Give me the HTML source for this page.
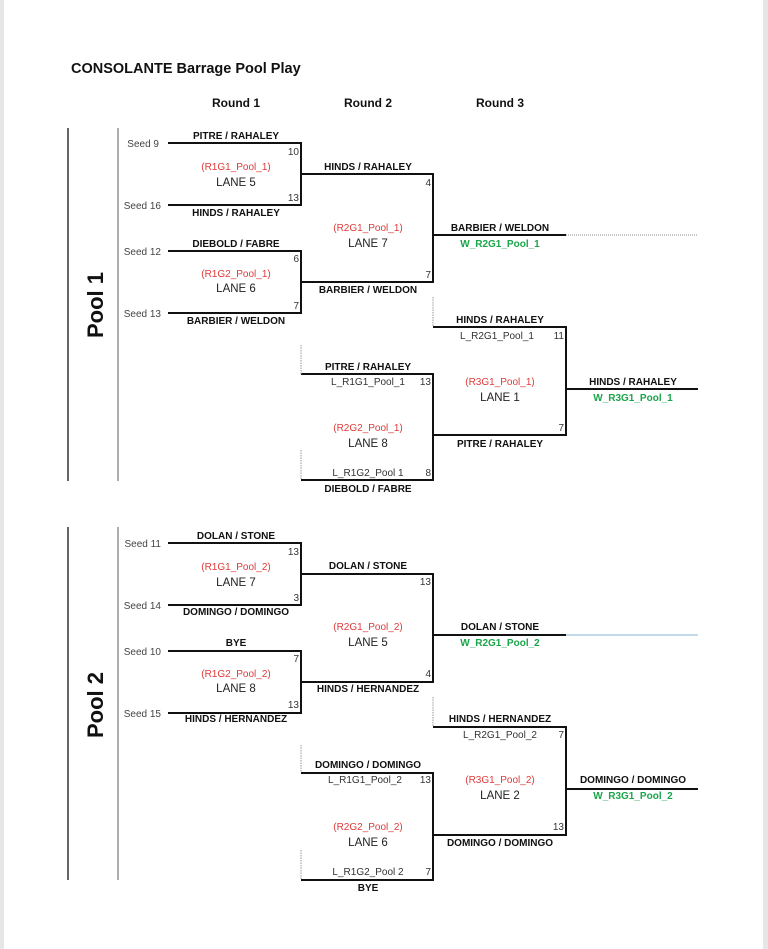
<!DOCTYPE html>
<html><head><meta charset="utf-8"><style>
html,body{margin:0;padding:0;background:#fff;}
svg{display:block;font-family:"Liberation Sans",sans-serif;}
.b{font-weight:bold;font-size:10px;text-anchor:middle;fill:#111;}
.r{font-size:10px;text-anchor:middle;fill:#e03a3a;}
.l{font-size:11.5px;text-anchor:middle;fill:#222;}
.g{font-weight:bold;font-size:10px;text-anchor:middle;fill:#1aa54a;}
.n{font-size:10px;text-anchor:middle;fill:#333;}
.s{font-size:10px;text-anchor:end;fill:#333;}
.sd{font-size:10px;text-anchor:end;fill:#444;}
.k{stroke:#111;stroke-width:2;fill:none;}
.d{stroke:#999;stroke-width:1;stroke-dasharray:1.5 1;fill:none;}
</style></head><body>
<svg width="768" height="949" viewBox="0 0 768 949">
<rect x="0" y="0" width="4" height="949" fill="#e6e6e6"/>
<rect x="763" y="0" width="5" height="949" fill="#e6e6e6"/>
<text x="71" y="73" font-weight="bold" font-size="14.5" fill="#111">CONSOLANTE Barrage Pool Play</text>
<text x="236" y="107" class="b" font-size="12" style="font-size:12px">Round 1</text>
<text x="368" y="107" class="b" style="font-size:12px">Round 2</text>
<text x="500" y="107" class="b" style="font-size:12px">Round 3</text>

<!-- POOL 1 -->
<g>
<line x1="68" y1="128" x2="68" y2="481" stroke="#333" stroke-width="1.5"/>
<line x1="118" y1="128" x2="118" y2="481" stroke="#777" stroke-width="1.2"/>
<text transform="translate(103,305) rotate(-90)" font-weight="bold" font-size="22" text-anchor="middle" fill="#111">Pool 1</text>
<path class="k" d="M168 143H301V205H168M168 251H301V313H168M301 174H433V282H301M433 235H566M433 327H566V435H433M301 374H433V480H301M566 389H698"/>
<path d="M566 235H698" stroke="#888" stroke-width="1" stroke-dasharray="1 1"/>
<path class="d" d="M433 297V327M301 345V374M301 450V480"/>
<text x="159" y="147" class="sd">Seed 9</text>
<text x="161" y="209" class="sd">Seed 16</text>
<text x="161" y="255" class="sd">Seed 12</text>
<text x="161" y="317" class="sd">Seed 13</text>
<text x="236" y="139" class="b">PITRE / RAHALEY</text>
<text x="299" y="155" class="s">10</text>
<text x="236" y="170" class="r">(R1G1_Pool_1)</text>
<text x="236" y="186" class="l">LANE 5</text>
<text x="299" y="201" class="s">13</text>
<text x="236" y="216" class="b">HINDS / RAHALEY</text>
<text x="236" y="247" class="b">DIEBOLD / FABRE</text>
<text x="299" y="262" class="s">6</text>
<text x="236" y="277" class="r">(R1G2_Pool_1)</text>
<text x="236" y="292" class="l">LANE 6</text>
<text x="299" y="309" class="s">7</text>
<text x="236" y="324" class="b">BARBIER / WELDON</text>
<text x="368" y="170" class="b">HINDS / RAHALEY</text>
<text x="431" y="186" class="s">4</text>
<text x="368" y="231" class="r">(R2G1_Pool_1)</text>
<text x="368" y="247" class="l">LANE 7</text>
<text x="431" y="278" class="s">7</text>
<text x="368" y="293" class="b">BARBIER / WELDON</text>
<text x="500" y="231" class="b">BARBIER / WELDON</text>
<text x="500" y="247" class="g">W_R2G1_Pool_1</text>
<text x="500" y="323" class="b">HINDS / RAHALEY</text>
<text x="497" y="339" class="n">L_R2G1_Pool_1</text>
<text x="564" y="339" class="s">11</text>
<text x="368" y="370" class="b">PITRE / RAHALEY</text>
<text x="368" y="385" class="n">L_R1G1_Pool_1</text>
<text x="431" y="385" class="s">13</text>
<text x="500" y="385" class="r">(R3G1_Pool_1)</text>
<text x="500" y="401" class="l">LANE 1</text>
<text x="564" y="431" class="s">7</text>
<text x="500" y="447" class="b">PITRE / RAHALEY</text>
<text x="633" y="385" class="b">HINDS / RAHALEY</text>
<text x="633" y="401" class="g">W_R3G1_Pool_1</text>
<text x="368" y="431" class="r">(R2G2_Pool_1)</text>
<text x="368" y="447" class="l">LANE 8</text>
<text x="368" y="476" class="n">L_R1G2_Pool 1</text>
<text x="431" y="476" class="s">8</text>
<text x="368" y="492" class="b">DIEBOLD / FABRE</text>
</g>

<!-- POOL 2 -->
<g transform="translate(0,400)">
<line x1="68" y1="127" x2="68" y2="480" stroke="#333" stroke-width="1.5"/>
<line x1="118" y1="127" x2="118" y2="480" stroke="#777" stroke-width="1.2"/>
<text transform="translate(103,305) rotate(-90)" font-weight="bold" font-size="22" text-anchor="middle" fill="#111">Pool 2</text>
<path class="k" d="M168 143H301V205H168M168 251H301V313H168M301 174H433V282H301M433 235H566M433 327H566V435H433M301 373H433V480H301M566 389H698"/>
<path d="M566 235H698" stroke="#9cc3e0" stroke-width="1.2"/>
<path class="d" d="M433 297V327M301 345V373M301 450V480"/>
<text x="161" y="147" class="sd">Seed 11</text>
<text x="161" y="209" class="sd">Seed 14</text>
<text x="161" y="255" class="sd">Seed 10</text>
<text x="161" y="317" class="sd">Seed 15</text>
<text x="236" y="139" class="b">DOLAN / STONE</text>
<text x="299" y="155" class="s">13</text>
<text x="236" y="170" class="r">(R1G1_Pool_2)</text>
<text x="236" y="186" class="l">LANE 7</text>
<text x="299" y="201" class="s">3</text>
<text x="236" y="215" class="b">DOMINGO / DOMINGO</text>
<text x="236" y="246" class="b">BYE</text>
<text x="299" y="262" class="s">7</text>
<text x="236" y="277" class="r">(R1G2_Pool_2)</text>
<text x="236" y="292" class="l">LANE 8</text>
<text x="299" y="308" class="s">13</text>
<text x="236" y="322" class="b">HINDS / HERNANDEZ</text>
<text x="368" y="169" class="b">DOLAN / STONE</text>
<text x="431" y="185" class="s">13</text>
<text x="368" y="230" class="r">(R2G1_Pool_2)</text>
<text x="368" y="246" class="l">LANE 5</text>
<text x="431" y="277" class="s">4</text>
<text x="368" y="292" class="b">HINDS / HERNANDEZ</text>
<text x="500" y="230" class="b">DOLAN / STONE</text>
<text x="500" y="246" class="g">W_R2G1_Pool_2</text>
<text x="500" y="322" class="b">HINDS / HERNANDEZ</text>
<text x="500" y="338" class="n">L_R2G1_Pool_2</text>
<text x="564" y="338" class="s">7</text>
<text x="368" y="368" class="b">DOMINGO / DOMINGO</text>
<text x="365" y="383" class="n">L_R1G1_Pool_2</text>
<text x="431" y="383" class="s">13</text>
<text x="500" y="383" class="r">(R3G1_Pool_2)</text>
<text x="500" y="399" class="l">LANE 2</text>
<text x="564" y="430" class="s">13</text>
<text x="500" y="446" class="b">DOMINGO / DOMINGO</text>
<text x="633" y="383" class="b">DOMINGO / DOMINGO</text>
<text x="633" y="399" class="g">W_R3G1_Pool_2</text>
<text x="368" y="430" class="r">(R2G2_Pool_2)</text>
<text x="368" y="446" class="l">LANE 6</text>
<text x="368" y="475" class="n">L_R1G2_Pool 2</text>
<text x="431" y="475" class="s">7</text>
<text x="368" y="491" class="b">BYE</text>
</g>
</svg>
</body></html>
